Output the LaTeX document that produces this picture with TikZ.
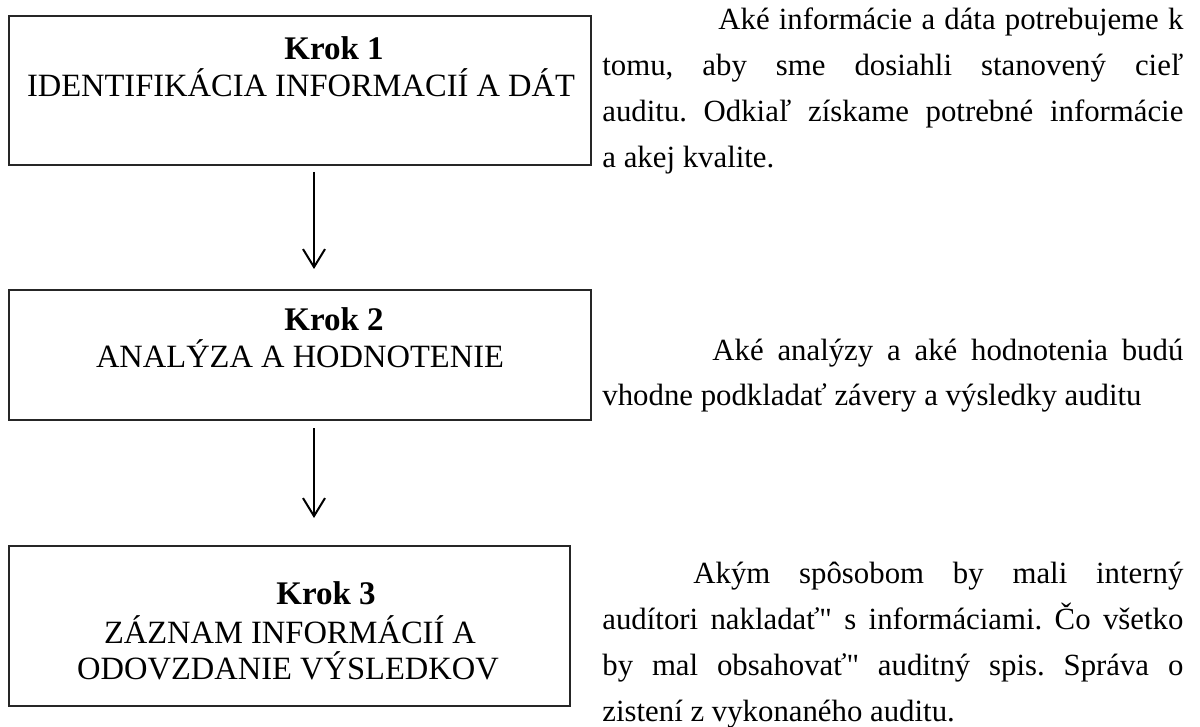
\documentclass[tikz,border=0pt]{standalone}
\usepackage{fontspec}
\setmainfont{Liberation Serif}
% same face without the TeX quote mapping, for the straight double quote
\newfontfamily\plainquote{Liberation Serif}[Ligatures=TeXOff]
\usetikzlibrary{arrows.meta}
% justified line of a given width
\newcommand\fillline[2]{\makebox[#1][s]{#2}}
\newcommand\dq{{\plainquote\symbol{34}}}
\frenchspacing
\begin{document}
\begin{tikzpicture}[x=0.5pt,y=-0.5pt,
  stepbox/.style={draw=black!85, line width=1pt, anchor=north west, inner sep=0pt},
  boxtext/.style={anchor=base, inner sep=0pt, font=\fontsize{16.25}{19}\selectfont},
  head/.style={anchor=base, inner sep=0pt, font=\fontsize{16.5}{19}\selectfont\bfseries},
  para/.style={anchor=base west, inner sep=0pt, font=\fontsize{15.4}{19}\selectfont},
  flow/.style={line width=1pt, -{Straight Barb[length=9pt,width=11pt,line width=1pt]}}
]
\useasboundingbox (0,0) rectangle (1200,727);

% step boxes
\node[stepbox, minimum width=291pt, minimum height=74.5pt] (s1) at (8,15) {};
\node[stepbox, minimum width=291pt, minimum height=65pt] (s2) at (8,289) {};
\node[stepbox, minimum width=280.5pt, minimum height=80pt] (s3) at (8,545) {};

% box contents
\node[head] (k1) at (334,60) {Krok 1};
\node[boxtext] (t1) at (301,97) {IDENTIFIKÁCIA INFORMACIÍ A DÁT};
\node[head] (k2) at (334,331) {Krok 2};
\node[boxtext] (t2) at (300,368) {ANALÝZA A HODNOTENIE};
\node[head] (k3) at (326,604) {Krok 3};
\node[boxtext] (t3a) at (290,643) {ZÁZNAM INFORMÁCIÍ A};
\node[boxtext] (t3b) at (288,679) {ODOVZDANIE VÝSLEDKOV};

% connectors between the steps
\coordinate (a1s) at (314,172);
\coordinate (a1e) at (314,269);
\coordinate (a2s) at (314,428);
\coordinate (a2e) at (314,518);
\draw[flow] (a1s) -- (a1e);
\draw[flow] (a2s) -- (a2e);

% explanations beside the steps
\node[para] (p1a) at (718,30) {\fillline{232.5pt}{Aké informácie a dáta potrebujeme k}};
\node[para] (p1b) at (602,76) {\fillline{290.5pt}{tomu, aby sme dosiahli stanovený cieľ}};
\node[para] (p1c) at (602,122) {\fillline{290.5pt}{auditu. Odkiaľ získame potrebné informácie}};
\node[para] (p1d) at (602,168) {a akej kvalite.};

\node[para] (p2a) at (712,360) {\fillline{235.5pt}{Aké analýzy a aké hodnotenia budú}};
\node[para] (p2b) at (602,406) {vhodne podkladať závery a výsledky auditu};

\node[para] (p3a) at (693,583) {\fillline{245pt}{Akým spôsobom by mali interný}};
\node[para] (p3b) at (602,629) {\fillline{290.5pt}{audítori nakladať\dq{} s informáciami. Čo všetko}};
\node[para] (p3c) at (602,675) {\fillline{290.5pt}{by mal obsahovať\dq{} auditný spis. Správa o}};
\node[para] (p3d) at (602,721) {zistení z vykonaného auditu.};
\end{tikzpicture}
\end{document}
